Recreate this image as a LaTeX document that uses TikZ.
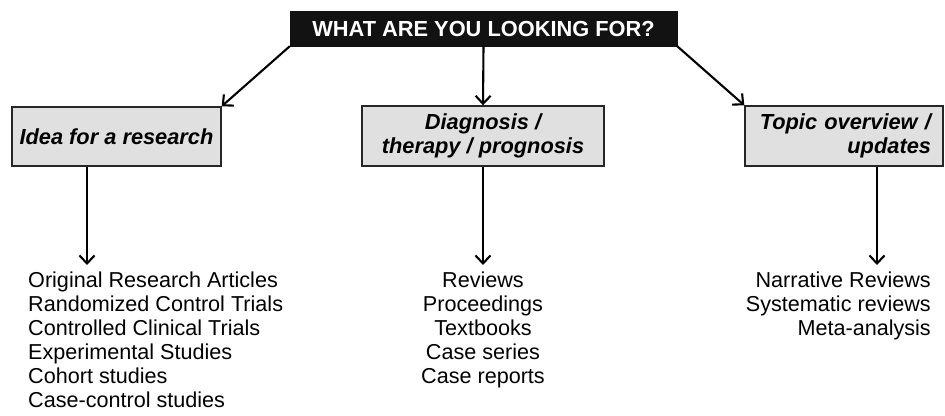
\documentclass[tikz,border=0pt]{standalone}
\usepackage{fontspec}
\setmainfont{Liberation Sans}
\usetikzlibrary{arrows.meta}
\definecolor{boxgrey}{HTML}{E0E0E0}
\definecolor{topblack}{HTML}{121212}
\tikzset{
  catbox/.style={draw=black!85, line width=1.4pt, fill=boxgrey, inner sep=0pt, font=\fontsize{21.8}{24}\selectfont\bfseries\itshape},
  topbox/.style={fill=topblack, draw=topblack, inner sep=0pt, text=white, font=\fontsize{21.8}{24}\selectfont\bfseries},
  listtxt/.style={inner sep=0pt, font=\fontsize{21.6}{24}\selectfont},
  arr/.style={line width=2.1pt, -{Straight Barb[length=8pt,width=15pt,line width=2.1pt]}}
}
\begin{document}
\begin{tikzpicture}[x=1pt,y=-1pt]
\useasboundingbox (0,0) rectangle (945,415);
\node[topbox, minimum width=387pt, minimum height=35pt] (top) at (483.5,28.5) {WHAT ARE YOU LOOKING FOR?};
\node[catbox, minimum width=209pt, minimum height=59pt] (idea) at (116.5,136.5) {Idea for a research};
\node[catbox, minimum width=242pt, minimum height=60pt, align=center] (diag) at (483,136) {Diagnosis /\\therapy / prognosis};
\node[catbox, minimum width=198pt, minimum height=60pt, align=right, text width=174pt] (topic) at (844,136) {Topic overview /\\updates};
\coordinate (l1) at (87,265);
\coordinate (l2) at (483,265);
\coordinate (l3) at (877,265);
\node[listtxt, align=left, anchor=north west] (list1) at (28,272) {Original Research Articles\\Randomized Control Trials\\Controlled Clinical Trials\\Experimental Studies\\Cohort studies\\Case-control studies};
\node[listtxt, align=center, anchor=north] (list2) at (483,272) {Reviews\\Proceedings\\Textbooks\\Case series\\Case reports};
\node[listtxt, align=right, anchor=north east] (list3) at (931,272) {Narrative Reviews\\Systematic reviews\\Meta-analysis};
\draw[arr] (top.south west) -- (idea.north east);
\draw[arr] (top.south) -- (diag.north);
\draw[arr] (top.south east) -- (topic.north west);
\draw[arr] (idea.south -| l1) -- (l1);
\draw[arr] (diag.south) -- (l2);
\draw[arr] (topic.south -| l3) -- (l3);
\end{tikzpicture}
\end{document}
